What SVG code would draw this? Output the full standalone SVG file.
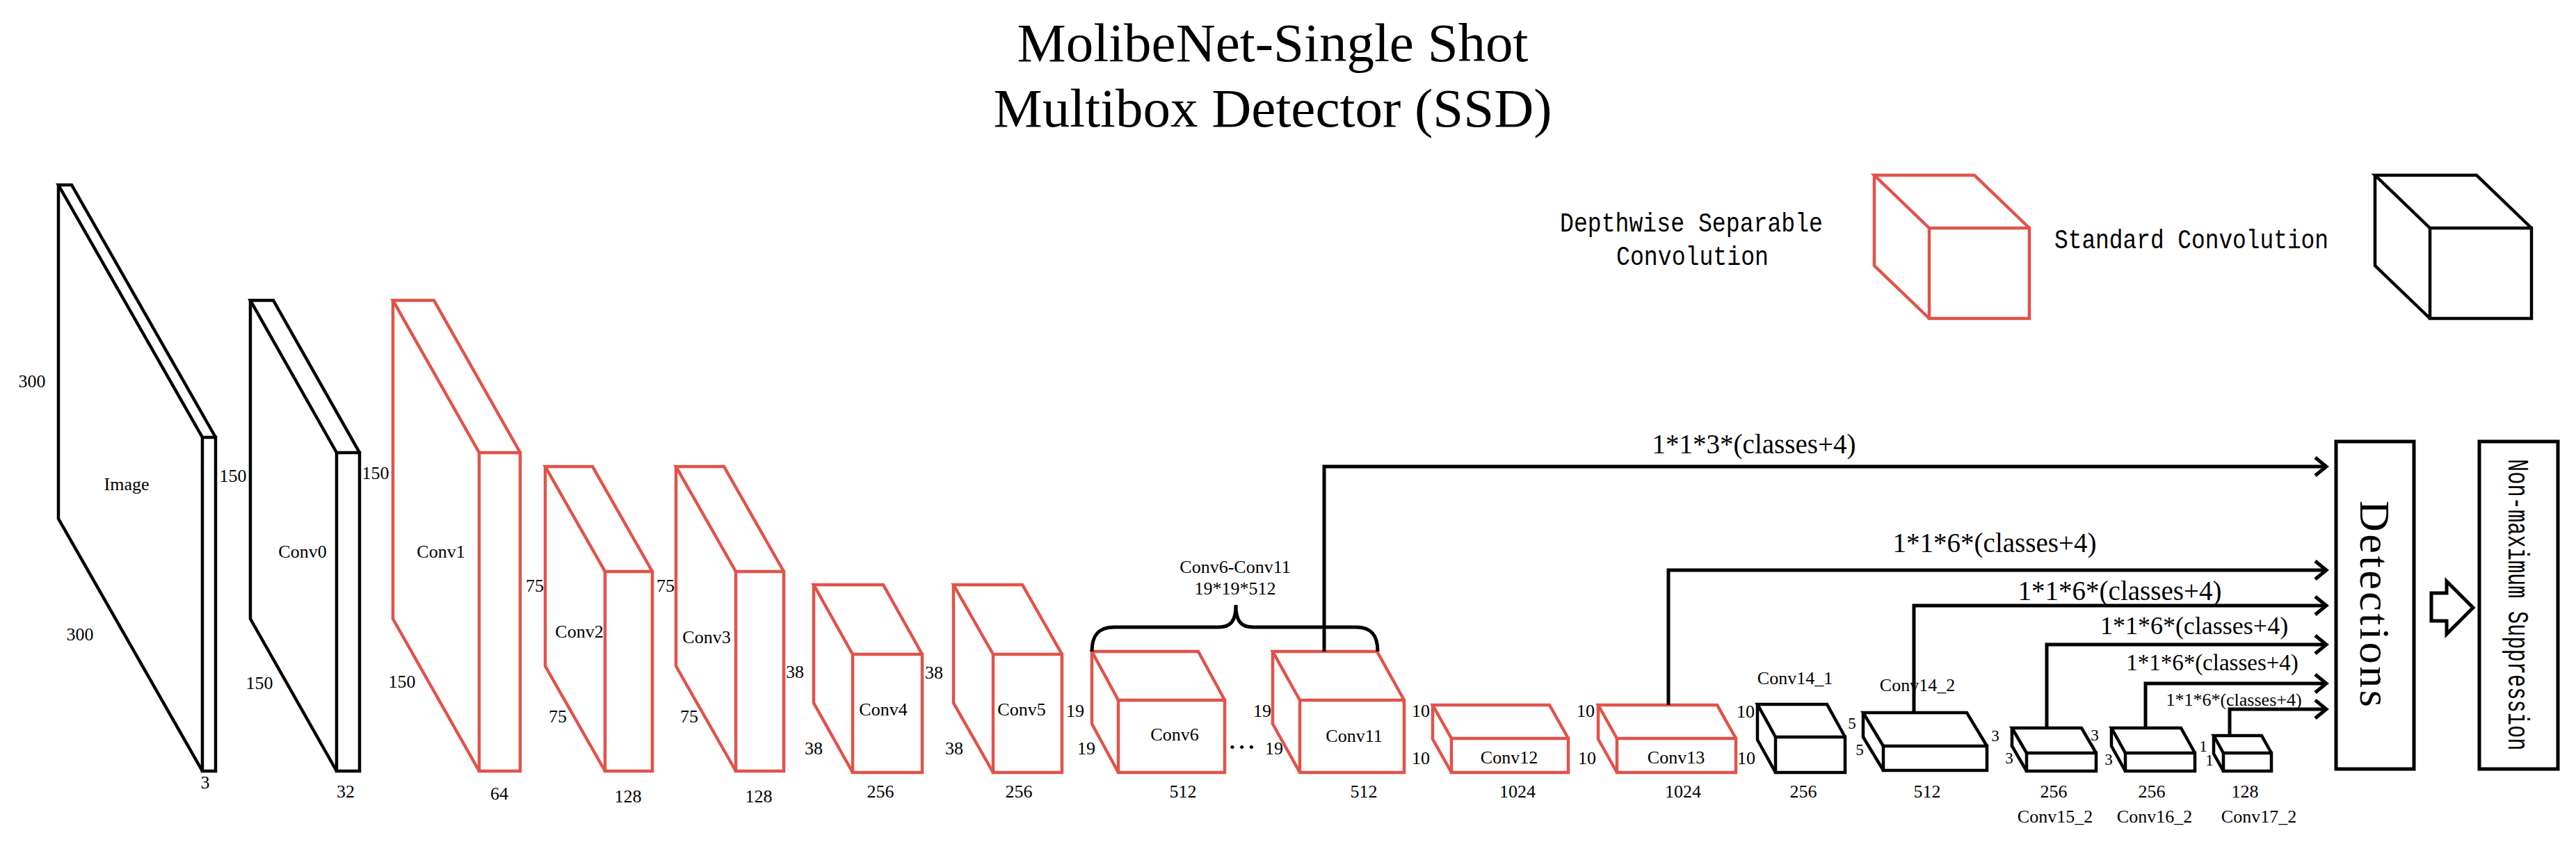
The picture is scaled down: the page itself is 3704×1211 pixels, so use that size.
<svg xmlns="http://www.w3.org/2000/svg" width="3704" height="1211" viewBox="0 0 3704 1211">
<style>
  .cube path { fill: none; stroke-width: 4.5; stroke-linejoin: miter; }
  .red path { stroke: #E0534A; }
  .blk path { stroke: #000000; }
  .lbl { font-family: "Liberation Serif", "Times New Roman", serif; font-size: 26px; fill: #000; text-anchor: middle; }
  .sm { font-size: 23px; }
  .conn { fill: none; stroke: #000; stroke-width: 5; }
  .clab { font-family: "Liberation Serif", "Times New Roman", serif; fill: #000; text-anchor: middle; }
  .mono { font-family: "Liberation Mono", "Courier New", monospace; fill: #000; }
  .title { font-family: "Liberation Serif", "Times New Roman", serif; font-size: 79px; fill: #000; text-anchor: middle; }
</style>
<defs>
  <marker id="chev" markerUnits="userSpaceOnUse" markerWidth="40" markerHeight="40" refX="20" refY="20" orient="auto" viewBox="0 0 40 40">
    <path d="M4,7 L20,20 L4,33" fill="none" stroke="#000" stroke-width="5"/>
  </marker>
</defs>
<rect x="0" y="0" width="3704" height="1211" fill="#ffffff"/>

<g id="title">
  <text class="title" x="1830" y="88">MolibeNet-Single Shot</text>
  <text class="title" x="1830" y="182">Multibox Detector (SSD)</text>
</g>

<g id="legend">
  <text class="mono" x="2243" y="333" font-size="38" textLength="378" lengthAdjust="spacingAndGlyphs">Depthwise Separable</text>
  <text class="mono" x="2324" y="381" font-size="38" textLength="219" lengthAdjust="spacingAndGlyphs">Convolution</text>
  <g id="legend-dw" class="cube red">
    <path d="M2774,328 H2918 V458 H2774 Z"/>
    <path d="M2774,328 L2695,252 L2839,252 L2918,328"/>
    <path d="M2695,252 V382 L2774,458"/>
  </g>
  <text class="mono" x="2954" y="357" font-size="38" textLength="394" lengthAdjust="spacingAndGlyphs">Standard Convolution</text>
  <g id="legend-std" class="cube blk">
    <path d="M3494,328 H3640 V458 H3494 Z"/>
    <path d="M3494,328 L3415,252 L3561,252 L3640,328"/>
    <path d="M3415,252 V382 L3494,458"/>
  </g>
</g>

<g id="image" class="cube blk">
  <path d="M291,629 H310 V1109 H291 Z"/>
  <path d="M291,629 L84,266 L103,266 L310,629"/>
  <path d="M84,266 V746 L291,1109"/>
  <text class="lbl" x="46" y="557">300</text>
  <text class="lbl" x="115" y="921">300</text>
  <text class="lbl" x="182" y="705">Image</text>
  <text class="lbl" x="295" y="1134">3</text>
</g>

<g id="conv0" class="cube blk">
  <path d="M484,651 H517 V1109 H484 Z"/>
  <path d="M484,651 L360,432 L393,432 L517,651"/>
  <path d="M360,432 V890 L484,1109"/>
  <text class="lbl" x="335" y="693">150</text>
  <text class="lbl" x="435" y="802">Conv0</text>
  <text class="lbl" x="373" y="991">150</text>
  <text class="lbl" x="497" y="1147">32</text>
</g>

<g id="conv1" class="cube red">
  <path d="M689,651 H748 V1109 H689 Z"/>
  <path d="M689,651 L565,432 L624,432 L748,651"/>
  <path d="M565,432 V890 L689,1109"/>
  <text class="lbl" x="540" y="689">150</text>
  <text class="lbl" x="634" y="802">Conv1</text>
  <text class="lbl" x="578" y="989">150</text>
  <text class="lbl" x="718" y="1150">64</text>
</g>

<g id="conv2" class="cube red">
  <path d="M870,822 H938 V1109 H870 Z"/>
  <path d="M870,822 L784,671 L852,671 L938,822"/>
  <path d="M784,671 V958 L870,1109"/>
  <text class="lbl" x="769" y="851">75</text>
  <text class="lbl" x="833" y="917">Conv2</text>
  <text class="lbl" x="802" y="1039">75</text>
  <text class="lbl" x="903" y="1154">128</text>
</g>

<g id="conv3" class="cube red">
  <path d="M1058,822 H1127 V1109 H1058 Z"/>
  <path d="M1058,822 L972,671 L1041,671 L1127,822"/>
  <path d="M972,671 V958 L1058,1109"/>
  <text class="lbl" x="957" y="851">75</text>
  <text class="lbl" x="1016" y="925">Conv3</text>
  <text class="lbl" x="991" y="1039">75</text>
  <text class="lbl" x="1091" y="1154">128</text>
</g>

<g id="conv4" class="cube red">
  <path d="M1226,941 H1326 V1111 H1226 Z"/>
  <path d="M1226,941 L1170,841 L1270,841 L1326,941"/>
  <path d="M1170,841 V1011 L1226,1111"/>
  <text class="lbl" x="1143" y="975">38</text>
  <text class="lbl" x="1270" y="1029">Conv4</text>
  <text class="lbl" x="1170" y="1085">38</text>
  <text class="lbl" x="1266" y="1147">256</text>
</g>

<g id="conv5" class="cube red">
  <path d="M1428,941 H1527 V1111 H1428 Z"/>
  <path d="M1428,941 L1371,841 L1470,841 L1527,941"/>
  <path d="M1371,841 V1011 L1428,1111"/>
  <text class="lbl" x="1343" y="976">38</text>
  <text class="lbl" x="1469" y="1029">Conv5</text>
  <text class="lbl" x="1372" y="1085">38</text>
  <text class="lbl" x="1465" y="1147">256</text>
</g>

<g id="conv6" class="cube red">
  <path d="M1608,1007 H1761 V1111 H1608 Z"/>
  <path d="M1608,1007 L1570,937 L1723,937 L1761,1007"/>
  <path d="M1570,937 V1041 L1608,1111"/>
  <text class="lbl" x="1546" y="1031">19</text>
  <text class="lbl" x="1689" y="1065">Conv6</text>
  <text class="lbl" x="1562" y="1085">19</text>
  <text class="lbl" x="1701" y="1147">512</text>
</g>

<g id="ellipsis">
  <text x="1768" y="1082" font-family="Liberation Serif, Times New Roman, serif" font-size="22" letter-spacing="6" fill="#000">•••</text>
</g>

<g id="conv11" class="cube red">
  <path d="M1869,1007 H2019 V1111 H1869 Z"/>
  <path d="M1869,1007 L1830,937 L1980,937 L2019,1007"/>
  <path d="M1830,937 V1041 L1869,1111"/>
  <text class="lbl" x="1815" y="1031">19</text>
  <text class="lbl" x="1947" y="1067">Conv11</text>
  <text class="lbl" x="1832" y="1085">19</text>
  <text class="lbl" x="1961" y="1147">512</text>
</g>

<g id="brace">
  <path d="M1570,937 C1570,913 1580,902 1602,902 L1752,902 C1770,902 1777,893 1777,870 C1777,893 1784,902 1802,902 L1950,902 C1971,902 1981,913 1981,937" fill="none" stroke="#000" stroke-width="5"/>
  <text class="lbl" x="1776" y="824">Conv6-Conv11</text>
  <text class="lbl" x="1776" y="855">19*19*512</text>
</g>

<g id="conv12" class="cube red">
  <path d="M2087,1062 H2255 V1111 H2087 Z"/>
  <path d="M2087,1062 L2060,1014 L2228,1014 L2255,1062"/>
  <path d="M2060,1014 V1063 L2087,1111"/>
  <text class="lbl" x="2043" y="1031">10</text>
  <text class="lbl" x="2043" y="1099">10</text>
  <text class="lbl" x="2170" y="1098">Conv12</text>
  <text class="lbl" x="2182" y="1147">1024</text>
</g>

<g id="conv13" class="cube red">
  <path d="M2325,1062 H2496 V1111 H2325 Z"/>
  <path d="M2325,1062 L2298,1014 L2469,1014 L2496,1062"/>
  <path d="M2298,1014 V1063 L2325,1111"/>
  <text class="lbl" x="2280" y="1031">10</text>
  <text class="lbl" x="2282" y="1099">10</text>
  <text class="lbl" x="2410" y="1098">Conv13</text>
  <text class="lbl" x="2420" y="1147">1024</text>
</g>

<g id="conv14_1" class="cube blk">
  <path d="M2553,1060 H2653 V1111 H2553 Z"/>
  <path d="M2553,1060 L2527,1013 L2627,1013 L2653,1060"/>
  <path d="M2527,1013 V1064 L2553,1111"/>
  <text class="lbl" x="2510" y="1032">10</text>
  <text class="lbl" x="2511" y="1099">10</text>
  <text class="lbl" x="2581" y="984">Conv14_1</text>
  <text class="lbl" x="2593" y="1147">256</text>
</g>

<g id="conv14_2" class="cube blk">
  <path d="M2708,1073 H2857 V1108 H2708 Z"/>
  <path d="M2708,1073 L2679,1025 L2828,1025 L2857,1073"/>
  <path d="M2679,1025 V1060 L2708,1108"/>
  <text class="lbl sm" x="2663" y="1048">5</text>
  <text class="lbl sm" x="2674" y="1086">5</text>
  <text class="lbl" x="2757" y="994">Conv14_2</text>
  <text class="lbl" x="2771" y="1147">512</text>
</g>

<g id="conv15_2" class="cube blk">
  <path d="M2914,1083 H3014 V1109 H2914 Z"/>
  <path d="M2914,1083 L2893,1047 L2993,1047 L3014,1083"/>
  <path d="M2893,1047 V1073 L2914,1109"/>
  <text class="lbl sm" x="2869" y="1066">3</text>
  <text class="lbl sm" x="2889" y="1098">3</text>
  <text class="lbl" x="2953" y="1147">256</text>
  <text class="lbl" x="2955" y="1183">Conv15_2</text>
</g>

<g id="conv16_2" class="cube blk">
  <path d="M3056,1083 H3156 V1109 H3056 Z"/>
  <path d="M3056,1083 L3036,1047 L3136,1047 L3156,1083"/>
  <path d="M3036,1047 V1073 L3056,1109"/>
  <text class="lbl sm" x="3012" y="1065">3</text>
  <text class="lbl sm" x="3032" y="1100">3</text>
  <text class="lbl" x="3094" y="1147">256</text>
  <text class="lbl" x="3098" y="1183">Conv16_2</text>
</g>

<g id="conv17_2" class="cube blk">
  <path d="M3197,1083 H3266 V1109 H3197 Z"/>
  <path d="M3197,1083 L3183,1058 L3252,1058 L3266,1083"/>
  <path d="M3183,1058 V1084 L3197,1109"/>
  <text class="lbl sm" x="3168" y="1081">1</text>
  <text class="lbl sm" x="3177" y="1101">1</text>
  <text class="lbl" x="3228" y="1147">128</text>
  <text class="lbl" x="3248" y="1183">Conv17_2</text>
</g>

<g id="connectors">
  <path class="conn" d="M1904,937 V671 H3345" marker-end="url(#chev)"/>
  <path class="conn" d="M2399,1014 V820 H3345" marker-end="url(#chev)"/>
  <path class="conn" d="M2752,1025 V871 H3345" marker-end="url(#chev)"/>
  <path class="conn" d="M2943,1047 V927 H3345" marker-end="url(#chev)"/>
  <path class="conn" d="M3085,1047 V983 H3345" marker-end="url(#chev)"/>
  <path class="conn" d="M3206,1058 V1020 H3345" marker-end="url(#chev)"/>
  <text class="clab" x="2522" y="652" font-size="39">1*1*3*(classes+4)</text>
  <text class="clab" x="2868" y="794" font-size="39">1*1*6*(classes+4)</text>
  <text class="clab" x="3048" y="863" font-size="39">1*1*6*(classes+4)</text>
  <text class="clab" x="3155" y="912" font-size="36">1*1*6*(classes+4)</text>
  <text class="clab" x="3181" y="964" font-size="33">1*1*6*(classes+4)</text>
  <text class="clab" x="3212" y="1015" font-size="26">1*1*6*(classes+4)</text>
  <polygon points="3496,853 3518,853 3518,836 3556,874 3518,912 3518,893 3496,893" fill="#fff" stroke="#000" stroke-width="5" stroke-linejoin="miter"/>
</g>

<g id="detections">
  <rect x="3359" y="635" width="112" height="471" fill="#fff" stroke="#000" stroke-width="5"/>
  <text transform="translate(3394,720) rotate(90)" x="0" y="0" font-family="Liberation Serif, Times New Roman, serif" font-size="62" textLength="297" fill="#000">Detections</text>
</g>

<g id="nms">
  <rect x="3565" y="635" width="113" height="471" fill="#fff" stroke="#000" stroke-width="5"/>
  <text class="mono" transform="translate(3607,660) rotate(90) scale(1,1.4)" x="0" y="0" font-size="30.4">Non-maximum Suppression</text>
</g>
</svg>
